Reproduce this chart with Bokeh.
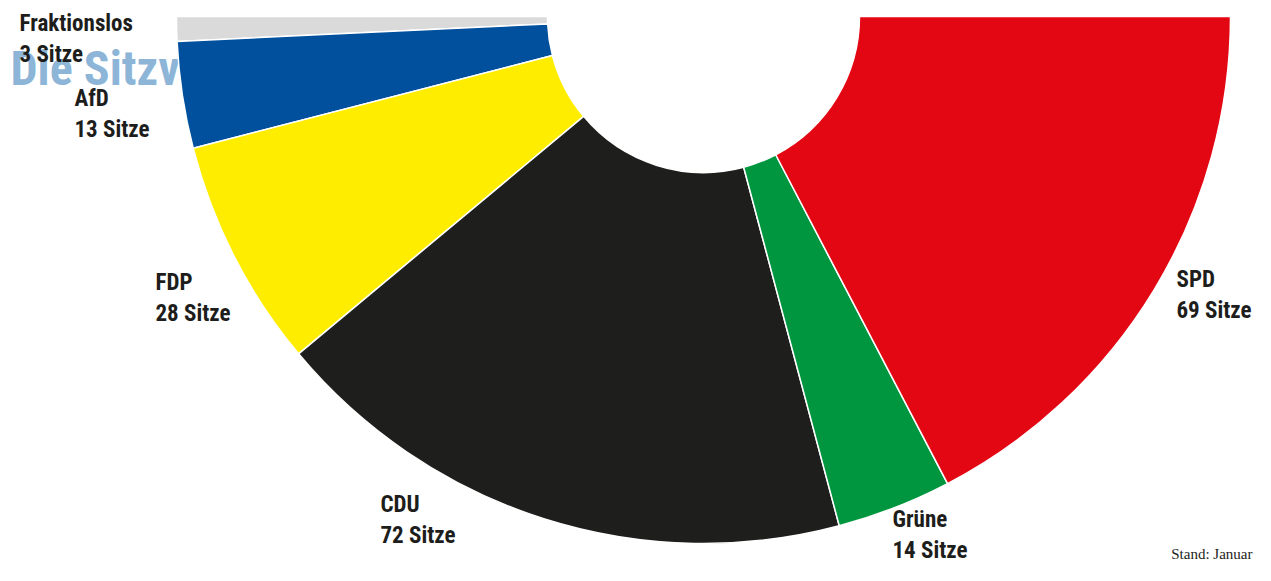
import math
from bokeh.plotting import figure
from bokeh.models import Range1d, ColumnDataSource
from bokeh.core.properties import value
from bokeh.embed import file_html
from bokeh.resources import INLINE

# ---- data ----
parties = ["Fraktionslos", "AfD", "FDP", "CDU", "Grüne", "SPD"]
seats = [3, 13, 28, 72, 14, 69]
colors = ["#dadada", "#00509e", "#ffed00", "#1e1e1c", "#00963f", "#e30613"]
title_text = "Die Sitzverteilung"
footnote = "Stand: Januar"

# ---- layout (screen pixels of the picture) ----
W, H, OFF = 1255, 565, 8
def dy(y_screen):
    return OFF + H - y_screen

CX, CY = 703, dy(16)
R_IN, R_OUT = 156, 527
LABEL_FS, TITLE_FS, NOTE_FS = 23, 48, 15
BASE_K = 0.39  # renderer places the alphabetic baseline ~0.39em low
# label anchors (left edge, visual baseline of first line), layout only
label_pos = [(19, 32), (74, 107), (155, 291), (380, 513), (892, 528), (1176, 288)]
LINE = 31

FONT = "Roboto Condensed, Liberation Sans Narrow, DejaVu Sans Condensed, sans-serif"

def ty(y_screen, fs):
    return dy(y_screen - BASE_K * fs)

total = sum(seats)
starts, ends = [], []
acc = 0
for s in seats:
    starts.append(math.pi + acc / total * math.pi)
    acc += s
    ends.append(math.pi + acc / total * math.pi)

p = figure(width=W, height=H, output_backend="svg", toolbar_location=None,
           x_range=Range1d(0, W), y_range=Range1d(OFF, OFF + H),
           min_border=0, outline_line_color=None, background_fill_color="white",
           border_fill_color="white")
p.axis.visible = False
p.grid.visible = False

# title partially hidden behind the chart
p.text(x=[10], y=[ty(87, TITLE_FS)], text=[title_text], text_font=value(FONT),
       text_font_size=f"{TITLE_FS}px", text_font_style="bold", text_color="#8db5d7",
       text_baseline="alphabetic", text_align="left")

src = ColumnDataSource(dict(party=parties, seats=seats, color=colors,
                            start=starts, end=ends))
p.annular_wedge(x=CX, y=CY, inner_radius=R_IN, outer_radius=R_OUT,
                start_angle="start", end_angle="end", fill_color="color",
                line_color="white", line_width=1.5, source=src)

lx = [q[0] for q in label_pos]
ly1 = [ty(q[1], LABEL_FS) for q in label_pos]
ly2 = [ty(q[1] + LINE, LABEL_FS) for q in label_pos]
lab = ColumnDataSource(dict(x=lx, y1=ly1, y2=ly2, name=parties,
                            sitze=[f"{s} Sitze" for s in seats]))
for ycol, tcol in (("y1", "name"), ("y2", "sitze")):
    p.text(x="x", y=ycol, text=tcol, source=lab, text_font=value(FONT),
           text_font_size=f"{LABEL_FS}px", text_font_style="bold", text_color="#1d1d1b",
           text_baseline="alphabetic", text_align="left")

p.text(x=[1252], y=[ty(559, NOTE_FS)], text=[footnote], text_font=value("Liberation Serif"),
       text_font_size=f"{NOTE_FS}px", text_color="#1d1d1b",
       text_baseline="alphabetic", text_align="right")

open("out.html", "w").write(file_html(p, INLINE))
